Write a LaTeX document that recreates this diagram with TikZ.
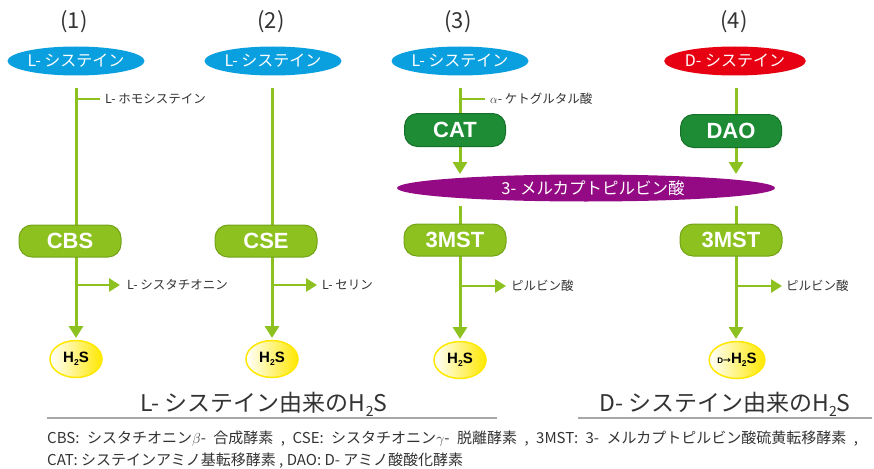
\documentclass[tikz,border=0pt]{standalone}
\usepackage{fontspec}
\setmainfont{Noto Sans CJK JP}
\newfontfamily\latinb{Liberation Sans}
\newfontfamily\jpb{Noto Sans CJK JP}
\usetikzlibrary{shapes.geometric,arrows.meta,backgrounds}
\definecolor{cyanE}{HTML}{0AA0E0}
\definecolor{redE}{HTML}{E60012}
\definecolor{lgreen}{HTML}{8CC11F}
\definecolor{lgreenD}{HTML}{74A318}
\definecolor{dgreen}{HTML}{1E8C35}
\definecolor{dgreenD}{HTML}{16702A}
\definecolor{purpleE}{HTML}{930A84}
\definecolor{yelE}{HTML}{FFE800}
\definecolor{txt}{HTML}{333333}
\definecolor{grayline}{HTML}{A8A8A8}
\tikzset{
  subst/.style={ellipse, minimum width=135pt, minimum height=29pt, inner sep=0pt, text=white, font=\fontsize{16}{17}\selectfont},
  enzl/.style={rounded corners=13pt, fill=lgreen, draw=lgreenD, line width=1pt, minimum width=102pt, minimum height=32pt, text=white, font=\latinb\bfseries\fontsize{22}{23}\selectfont},
  enzd/.style={rounded corners=13pt, fill=dgreen, draw=dgreenD, line width=1pt, minimum width=101pt, minimum height=33pt, text=white, font=\latinb\bfseries\fontsize{22}{23}\selectfont},
  prod/.style={ellipse, minimum width=52pt, minimum height=37pt, inner sep=0pt, left color=white, right color=yelE, draw=yelE, line width=1.5pt, font=\latinb\bfseries\fontsize{15}{16}\selectfont},
  lbl/.style={anchor=west, text=txt, inner sep=0pt, font=\fontsize{12.5}{13}\selectfont},
  gline/.style={draw=lgreen, line width=3pt},
  garrow/.style={draw=lgreen, line width=3pt, -{Triangle[width=14pt,length=12pt]}},
  barrow/.style={draw=lgreen, line width=2.5pt, -{Triangle[width=13pt,length=11pt]}},
  tee/.style={draw=lgreen, line width=2.5pt},
  head/.style={text=txt, font=\fontsize{22}{23}\selectfont},
  foot/.style={anchor=west, text=txt, inner sep=0pt, font=\fontsize{15}{16}\selectfont},
  title/.style={text=txt, font=\fontsize{23}{24}\selectfont},
}
\begin{document}
\begin{tikzpicture}[x=1pt,y=-1pt]
\useasboundingbox (0,0) rectangle (874,468);
% headings
\node[head] (h1) at (74,22) {(1)};
\node[head] (h2) at (271,22) {(2)};
\node[head] (h3) at (458,22) {(3)};
\node[head] (h4) at (734,22) {(4)};
% substrates
\node[subst, fill=cyanE] (s1) at (76,61) {L- システイン};
\node[subst, fill=cyanE] (s2) at (273,61) {L- システイン};
\node[subst, fill=cyanE] (s3) at (460,61) {L- システイン};
\node[subst, fill=redE] (s4) at (735,61) {D- システイン};
% enzymes
\node[enzl] (cbs) at (70,241) {CBS};
\node[enzl] (cse) at (266,241) {CSE};
\node[enzd] (cat) at (455,130) {CAT};
\node[enzd] (dao) at (731,131) {DAO};
\node[ellipse, fill=purpleE, minimum width=378pt, minimum height=27pt, inner sep=0pt, text=white, font=\fontsize{16.5}{17}\selectfont] (mp) at (586,188) {\hspace*{14pt}3- メルカプトピルビン酸};
\node[enzl] (mst3) at (455,240) {3MST};
\node[enzl] (mst4) at (731,240) {3MST};
% products
\node[prod] (p1) at (76,359) {H\raisebox{-0.35ex}{\fontsize{8.5}{9}\selectfont 2}S};
\node[prod] (p2) at (272,359) {H\raisebox{-0.35ex}{\fontsize{8.5}{9}\selectfont 2}S};
\node[prod] (p3) at (460,360) {H\raisebox{-0.35ex}{\fontsize{8.5}{9}\selectfont 2}S};
\node[prod, minimum width=50pt] (p4) at (737,360) {\fontsize{8}{8}\selectfont D{\jpb\fontsize{8}{8}\selectfont →}\fontsize{15}{16}\selectfont H\raisebox{-0.35ex}{\fontsize{8.5}{9}\selectfont 2}S};
% labels
\node[lbl] (l1) at (105,99) {L- ホモシステイン};
\node[lbl] (l2) at (127,285) {L- シスタチオニン};
\node[lbl] (l3) at (322,285) {L- セリン};
\node[lbl] (l4) at (490,99) {$\alpha$- ケトグルタル酸};
\node[lbl] (l5) at (511,286) {ピルビン酸};
\node[lbl] (l6) at (786,286) {ピルビン酸};
% coordinates
\coordinate (a1) at (76,88);
\coordinate (a2) at (272,88);
\coordinate (a3) at (460,88);
\coordinate (a4) at (736,88);
\coordinate (t1) at (76,99);  \coordinate (t1e) at (100,99);
\coordinate (t3) at (460,99); \coordinate (t3e) at (485,99);
\coordinate (b1) at (76,285);  \coordinate (b1e) at (120,285);
\coordinate (b2) at (272,285); \coordinate (b2e) at (317,285);
\coordinate (b3) at (460,286); \coordinate (b3e) at (506,286);
\coordinate (b4) at (736,286); \coordinate (b4e) at (782,286);
\coordinate (m3t) at (460,174); \coordinate (m4t) at (736,174);
\coordinate (m3b) at (460,206); \coordinate (m4b) at (736,206);
\coordinate (p1t) at (76,338); \coordinate (p2t) at (272,338);
\coordinate (p3t) at (460,339); \coordinate (p4t) at (736,339);
\coordinate (c3b) at (460,140); \coordinate (c4b) at (736,140);
\begin{scope}[on background layer]
\draw[garrow] (a1) -- (p1t);
\draw[garrow] (a2) -- (p2t);
\draw[gline] (a3) -- (c3b);
\draw[garrow] (c3b) -- (m3t);
\draw[gline] (a4) -- (c4b);
\draw[garrow] (c4b) -- (m4t);
\draw[garrow] (m3b) -- (p3t);
\draw[garrow] (m4b) -- (p4t);
\draw[tee] (t1) -- (t1e);
\draw[tee] (t3) -- (t3e);
\draw[barrow] (b1) -- (b1e);
\draw[barrow] (b2) -- (b2e);
\draw[barrow] (b3) -- (b3e);
\draw[barrow] (b4) -- (b4e);
\end{scope}
% bottom titles
\node[title] (tl) at (264,404) {L- システイン由来のH\raisebox{-0.4ex}{\fontsize{14}{14}\selectfont 2}S};
\node[title] (tr) at (725,404) {D- システイン由来のH\raisebox{-0.4ex}{\fontsize{14}{14}\selectfont 2}S};
\coordinate (ul1) at (47,418); \coordinate (ul1e) at (497,418);
\coordinate (ul2) at (578,418); \coordinate (ul2e) at (872,418);
\draw[grayline, line width=1.3pt] (ul1) -- (ul1e);
\draw[grayline, line width=1.3pt] (ul2) -- (ul2e);
% footnote
\node[foot] (f1) at (47,439) {\spaceskip=7.5pt plus 1pt CBS: シスタチオニン$\beta$- 合成酵素 , CSE: シスタチオニン$\gamma$- 脱離酵素 , 3MST: 3- メルカプトピルビン酸硫黄転移酵素 ,};
\node[foot] (f2) at (47,461) {CAT: システインアミノ基転移酵素 , DAO: D- アミノ酸酸化酵素};
\end{tikzpicture}
\end{document}
